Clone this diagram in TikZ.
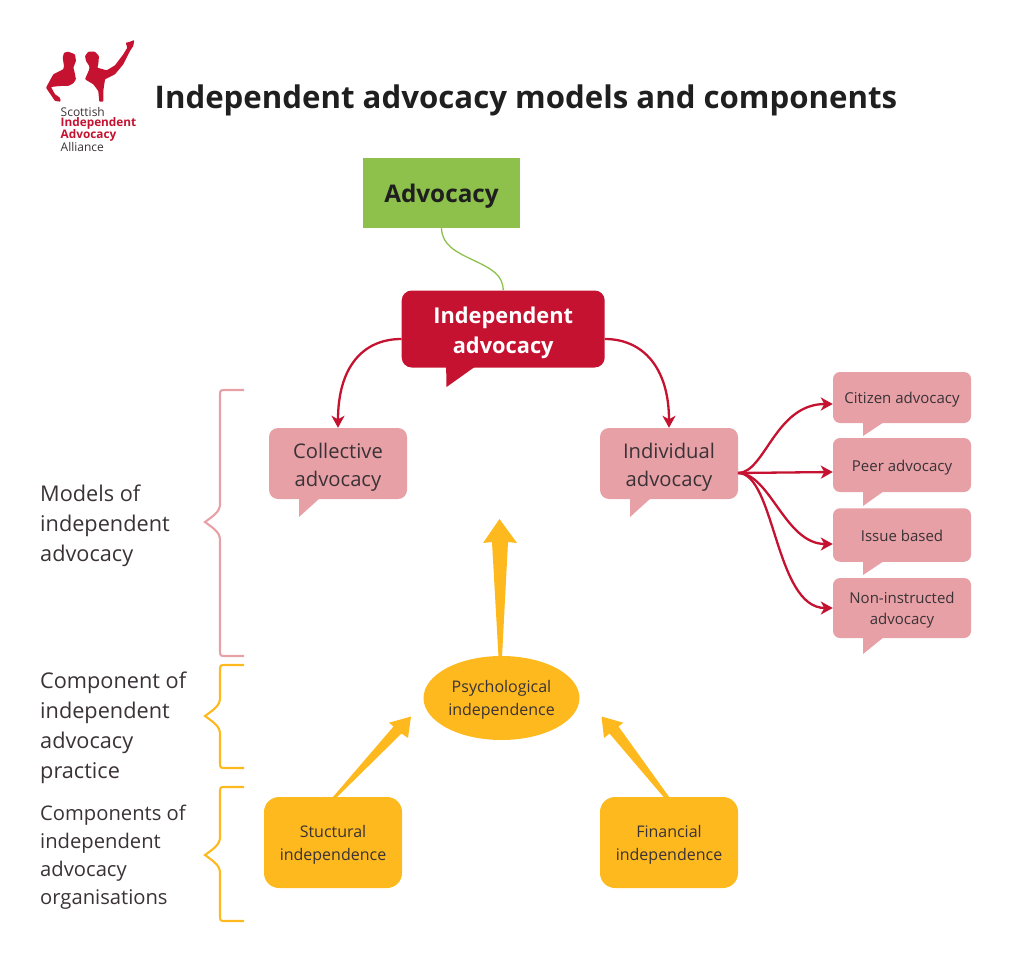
\documentclass[tikz,border=0pt]{standalone}
\usepackage{fontspec}
\setmainfont{Open Sans}
\usetikzlibrary{arrows.meta,shapes.geometric}
\definecolor{sred}{HTML}{C41230}
\definecolor{spink}{HTML}{E6A0A6}
\definecolor{sgreen}{HTML}{8DC14B}
\definecolor{syel}{HTML}{FDB91E}
\definecolor{sink}{HTML}{3A3236}
\newcommand{\dn}[1]{\rule{0pt}{\dimexpr 0.76em+#1\relax}}
\tikzset{
  x=1pt,y=-1pt,
  boxbase/.style={inner sep=0pt,align=center,text=sink,anchor=center},
  topbox/.style={boxbase,fill=sgreen,font=\fontsize{24.3}{28}\selectfont\bfseries,text=black!88},
  mainbox/.style={boxbase,fill=sred,rounded corners=10pt,font=\fontsize{21.8}{30}\selectfont\bfseries,text=white},
  midbox/.style={boxbase,fill=spink,rounded corners=9pt,font=\fontsize{20.2}{28}\selectfont},
  smallbox/.style={boxbase,fill=spink,rounded corners=7pt,font=\fontsize{15}{21}\selectfont},
  yelbox/.style={boxbase,fill=syel,rounded corners=15pt,font=\fontsize{16}{23}\selectfont},
  yelell/.style={boxbase,fill=syel,ellipse,font=\fontsize{16}{23}\selectfont},
  sidelabel/.style={inner sep=0pt,align=left,anchor=north west,text=sink},
  redarrow/.style={draw=sred,line width=2.3pt,-{Stealth[length=12pt,width=13pt,inset=3.5pt]}},
  bracepink/.style={draw=spink,line width=2.1pt},
  braceyel/.style={draw=syel,line width=2.1pt},
  logotext/.style={inner sep=0pt,anchor=west,font=\fontsize{12}{14}\selectfont},
  logobold/.style={inner sep=0pt,anchor=west,text=sred,font=\fontsize{11.8}{14}\selectfont\bfseries},
}
\newcommand{\bracket}[4]{% style, top y, tip y, bottom y
  \draw[#1] (244,#2) -- (226,#2) .. controls (220,#2) and (220,#2) .. (220,{#2+6})
    -- (220,{#3-18}) .. controls (220,{#3-10}) and (213,{#3-6}) .. (205,#3)
    .. controls (213,{#3+6}) and (220,{#3+10}) .. (220,{#3+18})
    -- (220,{#4-6}) .. controls (220,#4) and (220,#4) .. (226,#4) -- (244,#4);}
\begin{document}
\begin{tikzpicture}
\useasboundingbox (0,0) rectangle (1024,960);
% logo
\fill[sred,rounded corners=0.8pt] (62.7,57.7) -- (64,52.7) -- (68.3,51.7) -- (75,54.3) -- (76,61) -- (73.3,67.7) -- (74.3,71) -- (76,79.3) -- (73.3,83.3) -- (68.3,86) -- (60,86) -- (51,87) -- (55,94.3) -- (60,97.7) -- (60.7,101.7) -- (55,101) -- (46,87.7) -- (53.3,74.3) -- (63.3,69.3) -- (64,66) -- cycle;
\fill[sred,rounded corners=0.8pt] (85,56) -- (88.3,51.7) -- (95,51.7) -- (99,56) -- (98.3,64.3) -- (97.3,67.7) -- (106.7,70.3) -- (115,65.3) -- (123.3,54.3) -- (127.3,47.7) -- (125.7,42.7) -- (129.3,42) -- (134.3,40) -- (133.3,46) -- (130,51) -- (123.3,64.3) -- (115,74.3) -- (105,79.3) -- (103.3,91) -- (103.3,101.7) -- (99.3,101.7) -- (98.3,91) -- (93.3,84.3) -- (85,79.3) -- (89.3,69.3) -- (89.3,66) -- (86,61) -- cycle;
\node[logotext,text=sink] (l1) at (60.5,112) {Scottish};
\node[logobold] (l2) at (60.5,123.5) {Independent};
\node[logobold] (l3) at (60.5,135.5) {Advocacy};
\node[logotext,text=sink] (l4) at (60.5,147) {Alliance};
% title
\node[inner sep=0pt,anchor=west,text=black!88,font=\fontsize{31.2}{36}\selectfont\bfseries] (title) at (154.5,100) {Independent advocacy models and components};
% boxes
\node[topbox,minimum width=157pt,minimum height=70pt] (adv) at (441.5,193) {\dn{6pt}Advocacy};
\fill[sred] (446,360) -- (446.5,387) -- (476,366) -- cycle;
\node[mainbox,minimum width=203pt,minimum height=77pt] (ind) at (503.2,329) {\dn{8pt}Independent\\advocacy};
\fill[spink] (299,490) -- (299,517) -- (320,498) -- cycle;
\node[midbox,minimum width=138pt,minimum height=71pt] (coll) at (338,463.5) {\dn{8pt}Collective\\advocacy};
\fill[spink] (630,490) -- (630,517) -- (651,498) -- cycle;
\node[midbox,minimum width=138pt,minimum height=71pt] (indiv) at (669,463.5) {\dn{8pt}Individual\\advocacy};
\fill[spink] (863,415) -- (863,436) -- (884,422) -- cycle;
\node[smallbox,minimum width=138pt,minimum height=51pt] (cit) at (902,397.5) {\dn{4pt}Citizen advocacy};
\fill[spink] (863,485) -- (863,506) -- (884,491) -- cycle;
\node[smallbox,minimum width=138pt,minimum height=54pt] (peer) at (902,465) {\dn{5pt}Peer advocacy};
\fill[spink] (863,555) -- (863,575) -- (884,561) -- cycle;
\node[smallbox,minimum width=138pt,minimum height=53.5pt] (iss) at (902,535) {\dn{2pt}Issue based};
\fill[spink] (863,630) -- (863,654) -- (884,637) -- cycle;
\node[smallbox,minimum width=138pt,minimum height=60pt] (non) at (902,608) {\dn{4pt}Non-instructed\\advocacy};
\node[yelell,minimum width=156pt,minimum height=84pt] (psy) at (501.5,698) {\dn{4pt}Psychological\\independence};
\node[yelbox,minimum width=138pt,minimum height=91pt] (str) at (333,842.5) {\dn{5pt}Stuctural\\independence};
\node[yelbox,minimum width=138pt,minimum height=91pt] (fin) at (669,842.5) {\dn{5pt}Financial\\independence};
% connectors
\draw[sgreen,line width=1.3pt] (adv.south) .. controls (442,245) and (456,252) .. (473,260) .. controls (492,269) and (503,275) .. (ind.north);
\draw[redarrow] (ind.west |- 0,339) .. controls (362,339) and (338,368) .. (coll.north);
\draw[redarrow] (ind.east |- 0,339) .. controls (643,339) and (669,368) .. (indiv.north);
\coordinate (fork) at (738,473);
\draw[redarrow] (fork) .. controls (765,473) and (775,404) .. (cit.west |- 0,404);
\draw[redarrow] (fork) -- (peer.west |- 0,472);
\draw[redarrow] (fork) .. controls (770,473) and (785,544) .. (iss.west |- 0,544);
\draw[redarrow] (fork) .. controls (775,473) and (775,608) .. (non.west |- 0,608);
% block arrows
\coordinate (tipU) at (499.5,519);
\coordinate (tipL) at (411,716.5);
\coordinate (tipR) at (601.5,716.5);
\fill[syel] (498.5,657) -- (492,542) -- (483,543) -- (tipU) -- (517,543) -- (508,542) -- (502,657) -- cycle;
\fill[syel] (332.5,797.5) -- (393.5,726.5) -- (389,722.7) -- (tipL) -- (408,738) -- (401.5,733.5) -- (336.5,797.5) -- cycle;
\fill[syel] (669.5,797.5) -- (618.5,726.5) -- (623.3,722.7) -- (tipR) -- (604,738) -- (609.5,733.5) -- (664,797.5) -- cycle;
% braces
\bracket{bracepink}{390}{522}{656}
\bracket{braceyel}{665}{716}{768}
\bracket{braceyel}{787}{855}{921}
% labels
\node[sidelabel,font=\fontsize{21.7}{30}\selectfont] (m) at (40,485) {Models of\\independent\\advocacy};
\node[sidelabel,font=\fontsize{21.7}{30}\selectfont] (c1) at (40,671.5) {Component of\\independent\\advocacy\\practice};
\node[sidelabel,font=\fontsize{20.2}{27.8}\selectfont] (c2) at (40,805) {Components of\\independent\\advocacy\\organisations};
\end{tikzpicture}
\end{document}
